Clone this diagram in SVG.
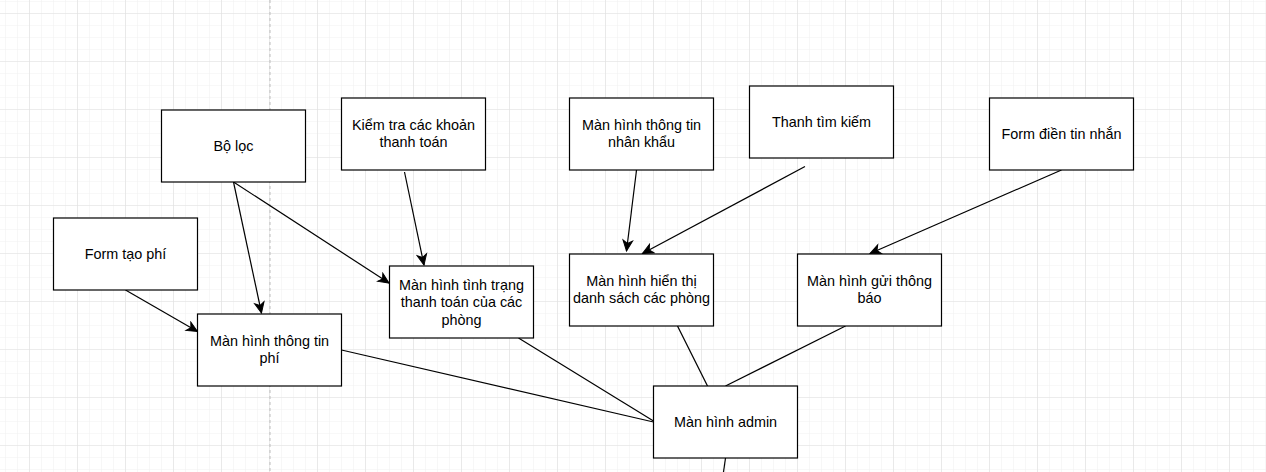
<svg xmlns="http://www.w3.org/2000/svg" width="1266" height="472" viewBox="0 0 1266 472">
<style>
.box{fill:#fff;stroke:#000;stroke-width:1.2}
.lbl{font-family:"Liberation Sans",Arial,sans-serif;font-size:14.4px;fill:#000;text-anchor:middle}
.edge{fill:none;stroke:#000;stroke-width:1.2}
.arr{marker-end:url(#ah)}
</style>
<defs>
<pattern id="minor" width="12" height="12" x="5" y="1" patternUnits="userSpaceOnUse">
<path d="M0,0 H12 M0,0 V12" fill="none" stroke="#f2f2f2" stroke-width="1.2"/>
</pattern>
<pattern id="major" width="48" height="48" x="29" y="13" patternUnits="userSpaceOnUse">
<path d="M0,0 H48 M0,0 V48" fill="none" stroke="#e0e0e0" stroke-width="1.2"/>
</pattern>
<marker id="ah" markerUnits="userSpaceOnUse" markerWidth="14" markerHeight="12" viewBox="-11 -6 12 12" refX="0" refY="0" orient="auto">
<path d="M0,0 L-10.5,-4.8 L-7.6,0 L-10.5,4.8 Z" fill="#000" stroke="#000" stroke-width="1"/>
</marker>
</defs>
<rect width="1266" height="472" fill="#fff"/>
<rect width="1266" height="472" fill="url(#minor)"/>
<rect width="1266" height="472" fill="url(#major)"/>
<line x1="270" y1="0" x2="270" y2="472" stroke="#bdbdbd" stroke-width="1" stroke-dasharray="3 3"/>

<g id="connectors">
<line class="edge arr" x1="233.5" y1="182" x2="261.5" y2="313"/>
<line class="edge arr" x1="233.5" y1="182" x2="389" y2="283"/>
<line class="edge arr" x1="404.5" y1="172" x2="424" y2="265"/>
<line class="edge arr" x1="125.5" y1="290" x2="197.5" y2="331.5"/>
<line class="edge" x1="341.5" y1="350" x2="653.5" y2="422"/>
<line class="edge" x1="518.5" y1="338" x2="653.5" y2="421"/>
<line class="edge arr" x1="636.5" y1="170" x2="626.5" y2="251"/>
<line class="edge arr" x1="805" y1="166.5" x2="642.5" y2="253.5"/>
<line class="edge arr" x1="1061.5" y1="170" x2="870" y2="253.5"/>
<line class="edge" x1="677.5" y1="326" x2="707.5" y2="386"/>
<line class="edge" x1="845.5" y1="326" x2="725.5" y2="386"/>
<line class="edge" x1="725.5" y1="458" x2="723.5" y2="472"/>
</g>

<g id="bo-loc">
<rect class="box" x="161.5" y="110" width="144" height="72"/>
<text class="lbl" x="233.5" y="151">Bộ lọc</text>
</g>
<g id="kiem-tra">
<rect class="box" x="341.5" y="98" width="144" height="72"/>
<text class="lbl" x="413.5" y="130">Kiểm tra các khoản</text>
<text class="lbl" x="413.5" y="147.3">thanh toán</text>
</g>
<g id="form-tao-phi">
<rect class="box" x="53.5" y="218" width="144" height="72"/>
<text class="lbl" x="125.5" y="259">Form tạo phí</text>
</g>
<g id="man-hinh-thong-tin-phi">
<rect class="box" x="197.5" y="314" width="144" height="72"/>
<text class="lbl" x="269.5" y="346">Màn hình thông tin</text>
<text class="lbl" x="269.5" y="363.3">phí</text>
</g>
<g id="man-hinh-tinh-trang">
<rect class="box" x="389.5" y="266" width="144" height="72"/>
<text class="lbl" x="461.5" y="290">Màn hình tình trạng</text>
<text class="lbl" x="461.5" y="307.3">thanh toán của các</text>
<text class="lbl" x="461.5" y="324.6">phòng</text>
</g>
<g id="man-hinh-nhan-khau">
<rect class="box" x="569.5" y="98" width="144" height="72"/>
<text class="lbl" x="641.5" y="130">Màn hình thông tin</text>
<text class="lbl" x="641.5" y="147.3">nhân khẩu</text>
</g>
<g id="thanh-tim-kiem">
<rect class="box" x="749.5" y="86" width="144" height="72"/>
<text class="lbl" x="821.5" y="127">Thanh tìm kiếm</text>
</g>
<g id="form-dien-tin-nhan">
<rect class="box" x="989.5" y="98" width="144" height="72"/>
<text class="lbl" x="1061.5" y="139">Form điền tin nhắn</text>
</g>
<g id="man-hinh-danh-sach-phong">
<rect class="box" x="569.5" y="254" width="144" height="72"/>
<text class="lbl" x="641.5" y="286">Màn hình hiển thị</text>
<text class="lbl" x="641.5" y="303.3">danh sách các phòng</text>
</g>
<g id="man-hinh-gui-thong-bao">
<rect class="box" x="797.5" y="254" width="144" height="72"/>
<text class="lbl" x="869.5" y="286">Màn hình gửi thông</text>
<text class="lbl" x="869.5" y="303.3">báo</text>
</g>
<g id="man-hinh-admin">
<rect class="box" x="653.5" y="386" width="144" height="72"/>
<text class="lbl" x="725.5" y="427">Màn hình admin</text>
</g>
</svg>
